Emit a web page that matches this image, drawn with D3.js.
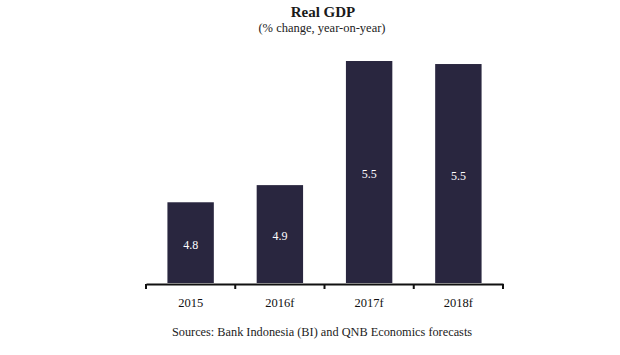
<!DOCTYPE html>
<html>
<head>
<meta charset="utf-8">
<script src="https://cdn.jsdelivr.net/npm/d3@7"></script>
<style>
  html, body { margin: 0; padding: 0; background: #ffffff; }
  svg { display: block; }
</style>
</head>
<body>
<svg id="chart" width="620" height="355"></svg>
<script>
const categories = ["2015", "2016f", "2017f", "2018f"];
const values = [4.8, 4.885, 5.5, 5.485];
const valueLabels = ["4.8", "4.9", "5.5", "5.5"];
const yDomain = [4.4, 5.5];

const title = "Real GDP";
const subtitle = "(% change, year-on-year)";
const source = "Sources: Bank Indonesia (BI) and QNB Economics forecasts";

const svg = d3.select("#chart");
const serif = "'Liberation Serif', 'DejaVu Serif', serif";
const barColor = "#29263f";

const x = d3.scaleBand().domain(categories).range([146, 503]).paddingInner(0.48).paddingOuter(0.24);
const y = d3.scaleLinear().domain(yDomain).range([283, 61]);

svg.append("g").selectAll("rect").data(categories).join("rect")
  .attr("x", d => x(d))
  .attr("width", x.bandwidth())
  .attr("y", (d, i) => y(values[i]))
  .attr("height", (d, i) => y(yDomain[0]) - y(values[i]))
  .attr("fill", barColor);

svg.append("g").selectAll("text").data(categories).join("text")
  .attr("x", d => x(d) + x.bandwidth() / 2)
  .attr("y", (d, i) => (y(values[i]) + y(yDomain[0])) / 2 + 6)
  .attr("text-anchor", "middle")
  .attr("fill", "#ffffff")
  .attr("font-family", serif)
  .attr("font-size", 12)
  .text((d, i) => valueLabels[i]);

// axis
const xAxis = d3.axisBottom(x).tickSize(0).tickPadding(14);
const ax = svg.append("g").attr("transform", "translate(0,284)").call(xAxis);
ax.select(".domain").attr("stroke", "#111").attr("stroke-width", 2);
ax.selectAll("text").attr("font-family", serif).attr("font-size", 12.5).attr("fill", "#111");
// boundary ticks between categories
const bounds = categories.map(c => x(c) - x.step() * x.paddingInner() / 2).concat([503]);
bounds[0] = 146;
ax.selectAll("line.sep").data(bounds).join("line")
  .attr("class", "sep")
  .attr("x1", d => d).attr("x2", d => d)
  .attr("y1", 0).attr("y2", 5)
  .attr("stroke", "#111").attr("stroke-width", 2);

svg.append("text")
  .attr("x", 323).attr("y", 17)
  .attr("text-anchor", "middle")
  .attr("font-family", serif)
  .attr("font-weight", "bold")
  .attr("font-size", 15)
  .attr("fill", "#1a1a1a")
  .text(title);

svg.append("text")
  .attr("x", 322).attr("y", 32)
  .attr("text-anchor", "middle")
  .attr("font-family", serif)
  .attr("font-size", 12.5)
  .attr("fill", "#222")
  .text(subtitle);

svg.append("text")
  .attr("x", 322).attr("y", 336)
  .attr("text-anchor", "middle")
  .attr("font-family", serif)
  .attr("font-size", 12.3)
  .attr("fill", "#222")
  .text(source);
</script>
</body>
</html>
